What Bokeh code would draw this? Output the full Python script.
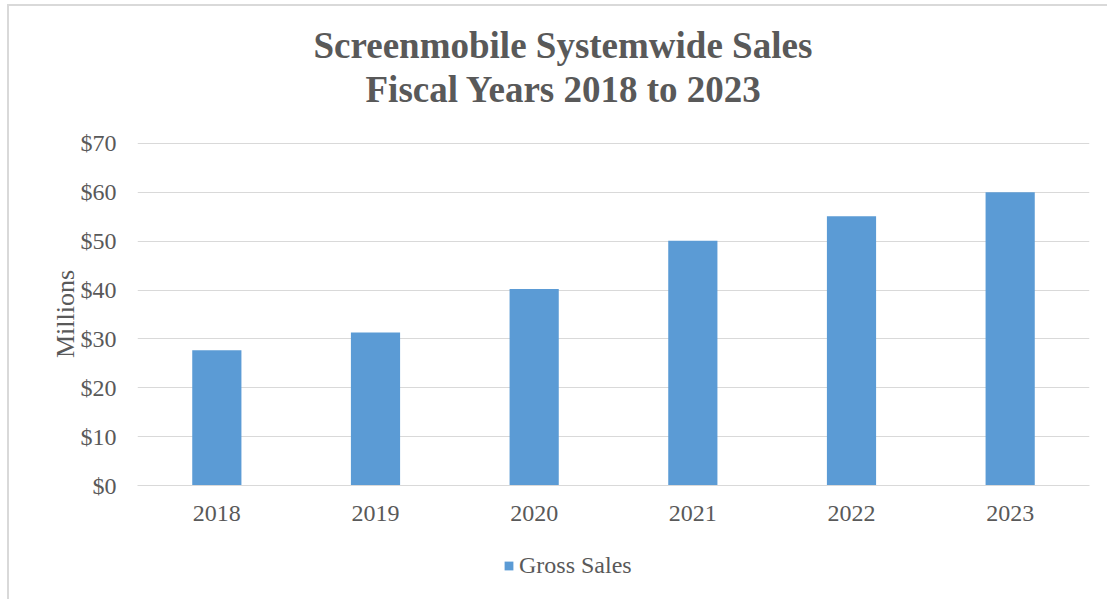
from bokeh.plotting import figure
from bokeh.models import (ColumnDataSource, Range1d, FactorRange, SingleIntervalTicker,
                          NumeralTickFormatter, Legend, LegendItem, Title, InlineStyleSheet)
from bokeh.layouts import column
from bokeh.embed import file_html
from bokeh.resources import INLINE

# ---- data ----
years = ["2018", "2019", "2020", "2021", "2022", "2023"]
gross_sales = [27.7, 31.3, 40.2, 50.1, 55.1, 60.0]
series_name = "Gross Sales"
title_lines = ["Screenmobile Systemwide Sales", "Fiscal Years 2018 to 2023"]
y_label = "Millions"

TEXT = "#595959"
GRID = "#D9D9D9"
BAR = "#5B9BD5"
SERIF = "Liberation Serif"

src = ColumnDataSource(dict(year=years, sales=gross_sales))
xr = FactorRange(*years)

p = figure(width=1107, height=540, x_range=xr, y_range=Range1d(0, 70.2),
           output_backend="svg", toolbar_location=None,
           min_border_left=137, min_border_right=18, min_border_top=142, min_border_bottom=55)
p.outline_line_color = None
p.background_fill_color = "white"
p.border_fill_color = "white"

r = p.vbar(x="year", top="sales", width=0.31, source=src, fill_color=BAR, line_color=None)

# title: first line is the plot title (outermost), second line added nearest the frame
def style_title(t):
    t.align = "left"
    t.text_font = SERIF
    t.text_font_size = "37px"
    t.text_font_style = "bold"
    t.text_color = TEXT

p.title.text = title_lines[0]
style_title(p.title)
p.title.offset = 176
p.title.standoff = -63
t2 = Title(text=title_lines[1])
style_title(t2)
t2.offset = 228
t2.standoff = 65
p.add_layout(t2, "above")

# axes
p.yaxis.ticker = SingleIntervalTicker(interval=10)
p.yaxis.formatter = NumeralTickFormatter(format="$0")
p.yaxis.axis_line_color = None
p.yaxis.major_tick_line_color = None
p.yaxis.minor_tick_line_color = None
p.yaxis.major_label_standoff = 15
p.yaxis.major_label_text_font = SERIF
p.yaxis.major_label_text_font_size = "24px"
p.yaxis.major_label_text_color = TEXT
p.yaxis.axis_label = y_label
p.yaxis.axis_label_text_font = SERIF
p.yaxis.axis_label_text_font_size = "26px"
p.yaxis.axis_label_text_font_style = "normal"
p.yaxis.axis_label_text_color = TEXT
p.yaxis.axis_label_standoff = -2

p.xaxis.axis_line_color = GRID
p.xaxis.major_tick_line_color = None
p.xaxis.minor_tick_line_color = None
p.xaxis.major_label_standoff = 14
p.xaxis.major_label_text_font = SERIF
p.xaxis.major_label_text_font_size = "24px"
p.xaxis.major_label_text_color = TEXT

p.xgrid.grid_line_color = None
p.ygrid.grid_line_color = GRID
p.ygrid.grid_line_width = 1

# legend strip below the chart (its renderer is hidden; only the legend entry shows)
pl = figure(width=1107, height=59, x_range=xr, y_range=Range1d(-200, -100),
            output_backend="svg", toolbar_location=None,
            x_axis_location=None, y_axis_location=None,
            min_border_left=0, min_border_right=0, min_border_top=0, min_border_bottom=0)
pl.outline_line_color = None
pl.xgrid.grid_line_color = None
pl.ygrid.grid_line_color = None
rl = pl.vbar(x="year", top="sales", width=0.31, source=src, fill_color=BAR, line_color=None)
rl.visible = False
legend = Legend(items=[LegendItem(label=series_name, renderers=[rl])],
                location=(366, 20), orientation="horizontal",
                glyph_width=11, glyph_height=11, label_standoff=5,
                padding=0, margin=0, spacing=0,
                label_text_font=SERIF, label_text_font_size="24px", label_text_color=TEXT,
                border_line_color=None, background_fill_alpha=0,
                inactive_fill_alpha=0)
pl.add_layout(legend)

# light chart-area border (left and top edges)
frame_css = InlineStyleSheet(css="""
:host::before {
  content: "";
  position: absolute;
  left: 7px; top: 4px;
  width: calc(100% - 7px); height: calc(100% - 4px);
  border-left: 2px solid #D9D9D9;
  border-top: 2px solid #D9D9D9;
  box-sizing: border-box;
  pointer-events: none;
  z-index: 10;
}
""")

layout = column(p, pl, spacing=0, stylesheets=[frame_css])
open("out.html", "w").write(file_html(layout, INLINE))
